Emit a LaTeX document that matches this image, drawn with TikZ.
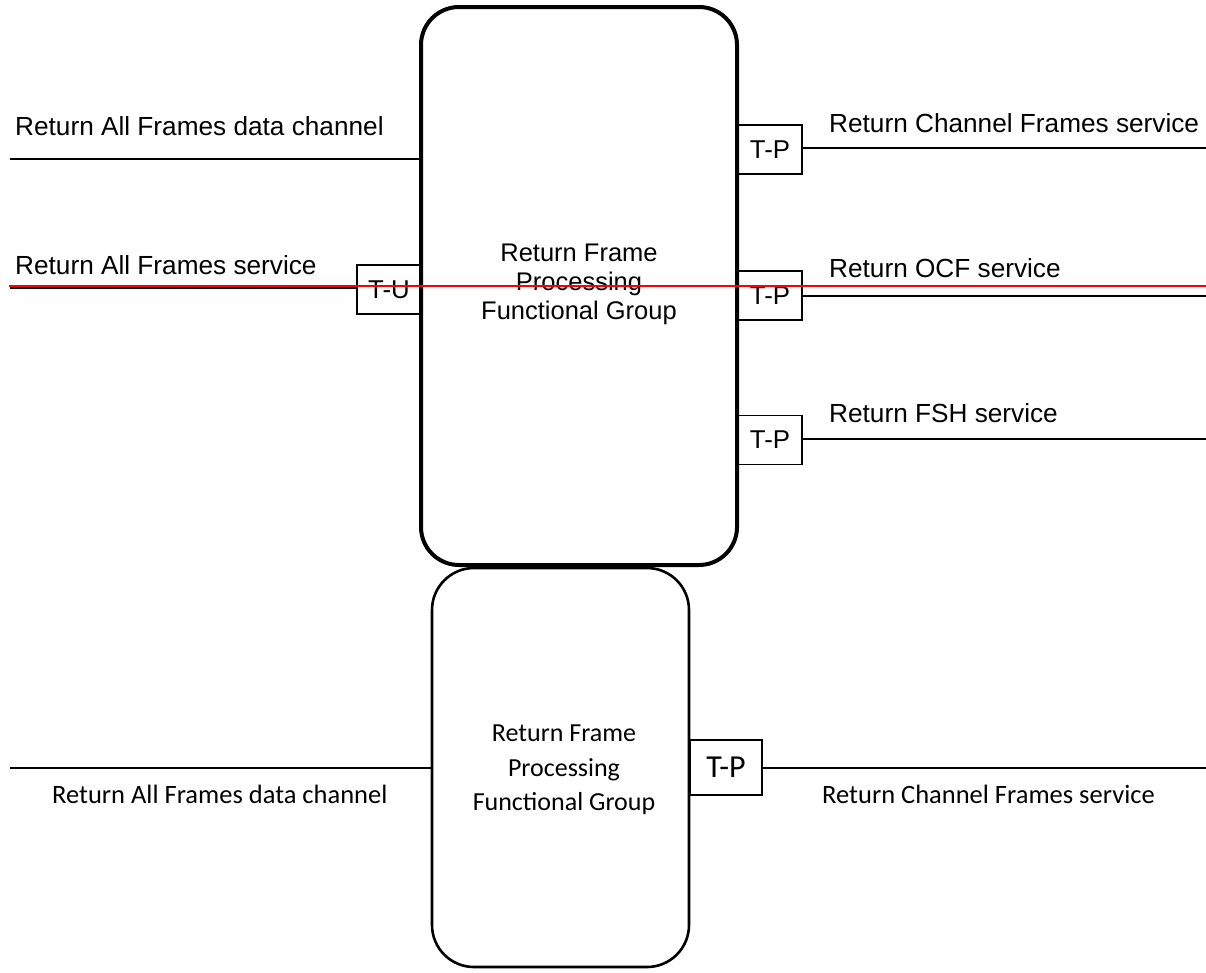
\documentclass[tikz,border=0pt]{standalone}
\usepackage{fontspec}
\setmainfont{Liberation Sans}
\newfontfamily\calibrifont{Carlito}
\begin{document}
\begin{tikzpicture}[x=1pt, y=-1pt,
    group/.style={draw, rounded corners=38pt, inner sep=0pt},
    port/.style={draw, line width=1.8pt, inner sep=0pt, minimum width=64pt, minimum height=49pt, font=\fontsize{25.8}{29}\selectfont},
    lbl/.style={anchor=base west, inner sep=0pt, font=\fontsize{26.2}{29}\selectfont},
    lblb/.style={anchor=base west, inner sep=0pt, font=\calibrifont\fontsize{26.5}{32}\selectfont},
    wire/.style={line width=2pt}]
    \useasboundingbox (0,0) rectangle (1206,972);
    % upper functional group
    \node [group, line width=4pt, minimum width=316pt, minimum height=558pt] (rfg) at (579, 286) {};
    \node [align=center, inner sep=0pt, font=\fontsize{25.5}{29}\selectfont] (rfgt) at (579, 284) {Return Frame\\Processing\\Functional Group};
    \node [port] (tu) at (389, 289.5) {T-U};
    \node [port] (tp1) at (770, 149.5) {T-P};
    \node [port] (tp2) at (770, 295.5) {T-P};
    \node [port] (tp3) at (770, 440) {T-P};
    \coordinate (rafl) at (10, 159);
    \coordinate (rasl) at (10, 288);
    \coordinate (rcfr) at (1206, 148);
    \coordinate (rocr) at (1206, 296);
    \coordinate (rfsr) at (1206, 439);
    \draw [wire] (rafl) -- (rafl -| rfg.west);
    \draw [wire] (rasl) -- (rasl -| tu.west);
    \draw [wire] (tp1.east |- rcfr) -- (rcfr);
    \draw [wire] (tp2.east |- rocr) -- (rocr);
    \draw [wire] (tp3.east |- rfsr) -- (rfsr);
    \node [lbl] (rafdc) at (15, 135) {Return All Frames data channel};
    \node [lbl] (rafs) at (15, 274) {Return All Frames service};
    \node [lbl] (rcfs) at (829, 132) {Return Channel Frames service};
    \node [lbl] (rocf) at (829, 277) {Return OCF service};
    \node [lbl] (rfsh) at (829, 422) {Return FSH service};
    \coordinate (redw) at (9, 286);
    \coordinate (rede) at (1206, 286);
    \draw [red, line width=1.5pt] (redw) -- (rede);
    % lower functional group
    \node [group, rounded corners=42pt, line width=2.6pt, minimum width=257pt, minimum height=399pt] (rfgb) at (560.5, 767.5) {};
    \node [align=center, inner sep=0pt, font=\calibrifont\fontsize{26}{34.5}\selectfont] (rfgbt) at (564, 770) {Return Frame\\Processing\\Functional Group};
    \node [port, line width=1.2pt, minimum width=72pt, minimum height=55pt, font=\calibrifont\fontsize{32}{34}\selectfont] (tpb) at (726, 767.5) {T-P};
    \coordinate (rafb) at (10, 768);
    \coordinate (rcfb) at (1206, 768);
    \draw [wire] (rafb) -- (rafb -| rfgb.west);
    \draw [wire] (tpb.east |- rcfb) -- (rcfb);
    \node [lblb] (rafdcb) at (52, 803) {Return All Frames data channel};
    \node [lblb] (rcfsb) at (822, 803) {Return Channel Frames service};
\end{tikzpicture}
\end{document}
